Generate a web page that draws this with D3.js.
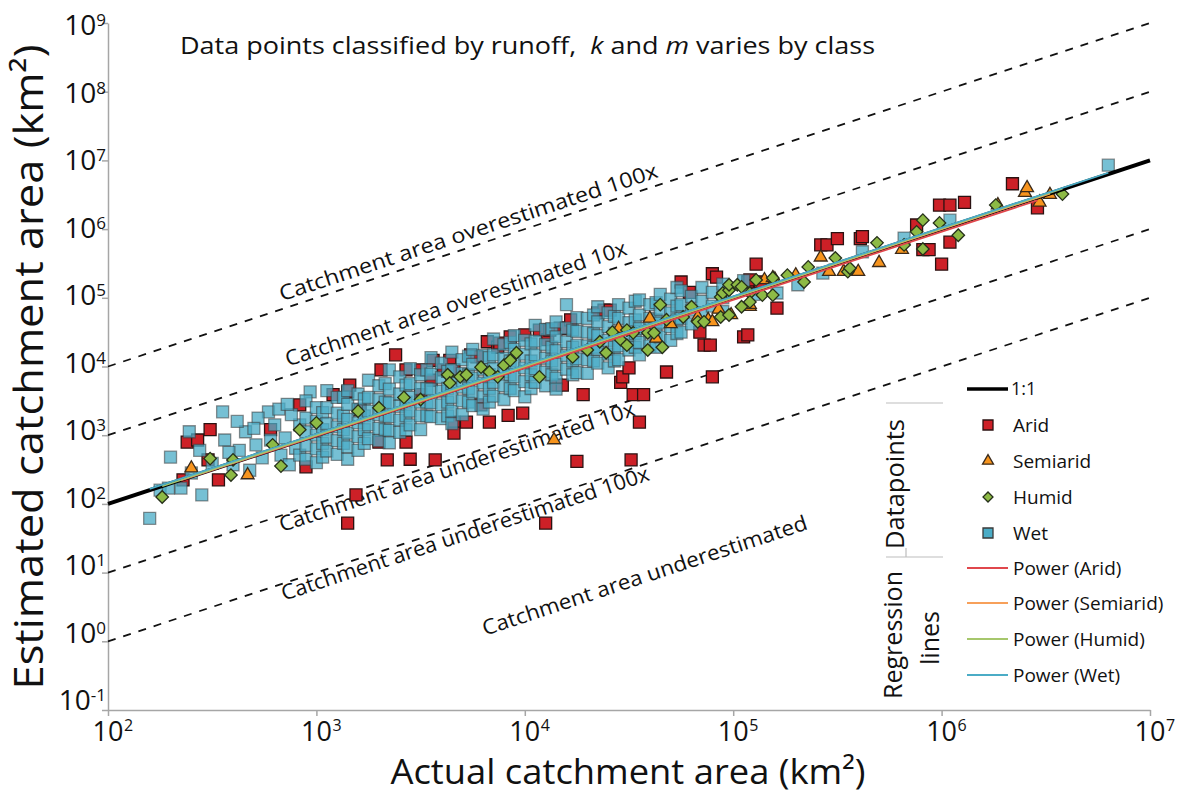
<!DOCTYPE html>
<html>
<head>
<meta charset="utf-8">
<script src="https://cdn.jsdelivr.net/npm/d3@7"></script>
<style>
  body { margin: 0; background: #fff; }
  svg { display: block; font-family: "Open Sans", sans-serif; }
</style>
</head>
<body>
<svg id="chart" width="1180" height="794"></svg>
<script>
// Catchment areas, given as log10(km2): [actual, estimated]
const arid = [
  [2.36,2.35],[2.38,2.90],[2.43,2.93],[2.49,3.08],[2.48,2.64],[2.53,2.35],
  [2.78,3.08],[2.92,3.44],[2.95,2.54],[3.08,3.59],[3.15,3.63],[3.15,1.72],[3.19,2.13],
  [3.16,3.73],[3.21,3.37],[3.30,2.90],[3.31,3.95],[3.34,2.64],[3.38,4.17],[3.43,2.90],
  [3.43,3.95],[3.45,2.65],[3.50,3.95],[3.50,3.59],[3.55,3.80],[3.56,4.09],[3.57,2.64],
  [3.61,3.95],[3.64,4.09],[3.66,3.95],[3.66,3.19],[3.66,3.03],[3.72,3.19],[3.74,4.17],
  [3.77,4.14],[3.79,3.44],[3.82,4.36],[3.83,3.19],[3.87,4.28],[3.88,4.34],[3.92,3.29],
  [3.93,4.43],[3.99,3.32],[4.00,4.46],[4.07,4.53],[4.10,1.72],[4.11,4.39],[4.12,4.53],
  [4.15,3.73],[4.17,4.56],[4.18,3.73],[4.20,4.56],[4.22,4.68],[4.25,2.62],[4.28,3.59],
  [4.35,4.78],[4.38,4.82],[4.41,4.82],[4.46,3.77],[4.47,3.85],[4.50,3.98],[4.51,2.64],
  [4.52,3.59],[4.55,3.19],[4.57,3.59],[4.68,3.92],[4.75,5.23],[4.79,5.08],[4.84,4.50],
  [4.86,4.31],[4.89,4.31],[4.90,5.35],[4.90,3.85],[4.92,5.30],[5.05,4.43],[5.07,4.46],
  [5.07,5.23],[5.08,5.26],[5.11,5.49],[5.13,5.23],[5.21,4.85],[5.42,5.77],[5.45,5.77],
  [5.50,5.86],[5.61,5.86],[5.62,5.89],[5.88,6.06],[5.91,5.70],[5.94,5.70],[5.99,6.35],
  [6.00,5.49],[6.04,6.35],[6.04,5.81],[6.11,6.39],[6.34,6.66],[6.46,6.31]
];

const semiarid = [
  [2.40,2.52],[2.67,2.42],[4.14,2.93],[4.45,4.55],[4.60,4.70],[4.63,4.41],[4.70,4.62],
  [4.83,4.72],[4.88,4.68],[4.90,4.65],[4.93,4.83],[4.99,4.75],[5.08,4.87],[5.08,4.90],
  [5.15,5.26],[5.20,5.27],[5.19,5.29],[5.30,5.33],[5.42,5.59],[5.46,5.38],[5.53,5.38],
  [5.60,5.38],[5.70,5.51],[5.81,5.70],[6.27,6.35],[6.40,6.53],[6.41,6.60],[6.47,6.39],
  [6.52,6.50]
];

const humid = [
  [2.26,2.10],[2.49,2.66],[2.59,2.42],[2.60,2.64],[2.79,2.86],[2.83,2.55],[2.92,3.08],
  [3.00,3.18],[3.20,3.35],[3.30,3.40],[3.42,3.55],[3.50,3.52],[3.63,3.88],[3.64,3.76],
  [3.69,3.85],[3.72,3.88],[3.79,3.99],[3.83,3.92],[3.87,3.85],[3.90,4.02],[3.93,4.09],
  [3.96,4.20],[4.07,3.85],[4.23,4.14],[4.30,4.24],[4.36,4.36],[4.39,4.20],[4.42,4.50],
  [4.46,4.39],[4.49,4.53],[4.49,4.31],[4.52,4.49],[4.59,4.49],[4.59,4.24],[4.62,4.49],
  [4.65,4.90],[4.66,4.28],[4.68,4.68],[4.76,4.72],[4.80,4.87],[4.83,4.65],[4.86,4.65],
  [4.94,4.72],[4.94,5.01],[4.95,5.07],[4.98,5.11],[4.98,4.75],[4.98,5.19],[5.02,5.19],
  [5.04,5.16],[5.04,4.87],[5.08,5.07],[5.08,4.94],[5.11,5.26],[5.14,5.04],[5.19,5.04],
  [5.19,5.29],[5.26,5.33],[5.34,5.23],[5.36,5.45],[5.49,5.58],[5.55,5.38],[5.56,5.43],
  [5.69,5.80],[5.82,5.77],[5.88,5.96],[5.91,6.13],[5.91,5.71],[5.99,6.09],[6.08,5.91],
  [6.26,6.35],[6.58,6.51]
];

const wet = [
  [2.20,1.79],[2.25,2.20],[2.29,2.23],[2.35,2.23],[2.30,2.68],[2.39,3.05],[2.45,2.13],
  [2.55,3.34],[2.77,3.34],[2.97,3.63],[2.44,2.78],[2.50,2.59],[2.56,2.93],[2.60,2.57],
  [2.63,2.78],[2.66,3.05],[2.68,2.49],[2.71,2.86],[2.74,2.67],[2.78,2.93],[2.80,3.15],
  [2.83,2.71],[2.85,2.96],[2.87,2.57],[2.90,2.81],[2.92,3.15],[2.92,2.71],[2.40,2.45],
  [2.62,3.20],[2.72,3.25],[2.82,3.38],[2.88,3.30],[2.70,3.10],[2.58,2.75],[2.86,3.45],
  [2.95,3.50],[2.95,3.25],[2.95,3.05],[2.95,2.85],[2.95,2.65],
  [3.00,3.40],[3.00,3.20],[3.00,3.00],[3.00,2.80],[3.00,2.60],
  [3.03,3.33],[3.03,3.08],[3.03,2.88],[3.03,2.68],
  [3.05,3.65],[3.05,3.40],[3.05,3.17],[3.05,2.97],[3.05,2.77],
  [3.10,3.55],[3.10,3.32],[3.10,3.12],[3.10,2.92],[3.10,2.72],
  [3.13,3.55],[3.13,3.28],[3.13,3.08],[3.13,2.88],
  [3.15,3.65],[3.15,3.45],[3.15,3.23],[3.15,3.03],[3.15,2.83],[3.15,2.65],
  [3.20,3.60],[3.20,3.38],[3.20,3.18],[3.20,2.98],[3.20,2.78],
  [3.23,3.53],[3.23,3.28],[3.23,3.08],[3.23,2.88],
  [3.25,3.80],[3.25,3.55],[3.25,3.35],[3.25,3.15],[3.25,2.95],
  [3.30,3.72],[3.30,3.52],[3.30,3.30],[3.30,3.10],[3.30,2.92],
  [3.33,3.75],[3.33,3.48],[3.33,3.28],[3.33,3.08],
  [3.35,3.95],[3.35,3.67],[3.35,3.47],[3.35,3.27],[3.35,3.07],[3.35,2.89],
  [3.40,3.85],[3.40,3.60],[3.40,3.42],[3.40,3.22],[3.40,3.04],
  [3.43,3.73],[3.43,3.48],[3.43,3.28],[3.43,3.08],
  [3.45,3.97],[3.45,3.75],[3.45,3.55],[3.45,3.35],[3.45,3.15],
  [3.50,3.88],[3.50,3.68],[3.50,3.48],[3.50,3.28],[3.50,3.08],
  [3.53,3.95],[3.53,3.68],[3.53,3.48],[3.53,3.28],
  [3.55,4.13],[3.55,3.89],[3.55,3.67],[3.55,3.47],[3.55,3.27],
  [3.60,4.05],[3.60,3.84],[3.60,3.64],[3.60,3.44],[3.60,3.24],
  [3.63,3.93],[3.63,3.68],[3.63,3.48],[3.63,3.28],
  [3.65,4.21],[3.65,3.95],[3.65,3.75],[3.65,3.55],[3.65,3.35],[3.65,3.17],
  [3.70,4.10],[3.70,3.90],[3.70,3.70],[3.70,3.50],[3.70,3.30],
  [3.73,4.15],[3.73,3.88],[3.73,3.68],[3.73,3.48],
  [3.75,4.25],[3.75,4.03],[3.75,3.83],[3.75,3.63],[3.75,3.43],
  [3.80,4.16],[3.80,3.96],[3.80,3.76],[3.80,3.56],[3.80,3.38],
  [3.83,4.13],[3.83,3.88],[3.83,3.68],[3.83,3.48],
  [3.85,4.40],[3.85,4.17],[3.85,3.97],[3.85,3.77],[3.85,3.57],
  [3.90,4.32],[3.90,4.12],[3.90,3.92],[3.90,3.72],[3.90,3.52],
  [3.93,4.35],[3.93,4.08],[3.93,3.88],[3.93,3.68],
  [3.95,4.45],[3.95,4.25],[3.95,4.05],[3.95,3.85],[3.95,3.65],
  [4.00,4.38],[4.00,4.18],[4.00,3.98],[4.00,3.78],[4.00,3.56],
  [4.03,4.33],[4.03,4.08],[4.03,3.88],[4.03,3.68],
  [4.05,4.60],[4.05,4.37],[4.05,4.17],[4.05,3.97],[4.05,3.77],
  [4.10,4.54],[4.10,4.32],[4.10,4.12],[4.10,3.92],[4.10,3.72],
  [4.13,4.55],[4.13,4.28],[4.13,4.08],[4.13,3.88],
  [4.15,4.65],[4.15,4.43],[4.15,4.23],[4.15,4.03],[4.15,3.83],[4.15,3.67],
  [4.20,4.90],[4.20,4.56],[4.20,4.36],[4.20,4.16],[4.20,3.96],
  [4.23,4.53],[4.23,4.28],[4.23,4.08],[4.23,3.88],
  [4.25,4.71],[4.25,4.51],[4.25,4.31],[4.25,4.11],[4.25,3.91],
  [4.30,4.70],[4.30,4.50],[4.30,4.30],[4.30,4.10],[4.30,3.90],
  [4.33,4.75],[4.33,4.48],[4.33,4.28],[4.33,4.08],
  [4.35,4.87],[4.35,4.65],[4.35,4.45],[4.35,4.25],[4.35,4.05],
  [4.40,4.78],[4.40,4.58],[4.40,4.38],[4.40,4.18],[4.40,3.98],
  [4.43,4.73],[4.43,4.48],[4.43,4.28],[4.43,4.08],
  [4.45,4.90],[4.45,4.70],[4.45,4.50],[4.45,4.30],[4.45,4.10],
  [4.50,4.85],[4.50,4.64],[4.50,4.44],[4.50,4.24],
  [4.53,4.95],[4.53,4.68],[4.53,4.48],[4.53,4.28],
  [4.55,4.97],[4.55,4.75],[4.55,4.55],[4.55,4.35],[4.55,4.17],
  [4.60,4.90],[4.60,4.70],[4.60,4.50],[4.60,4.30],
  [4.63,4.93],[4.63,4.68],[4.63,4.48],[4.63,4.28],
  [4.65,5.05],[4.65,4.83],[4.65,4.63],[4.65,4.43],
  [4.70,4.98],[4.70,4.78],[4.70,4.58],[4.70,4.38],
  [4.73,5.15],[4.73,4.88],[4.73,4.68],[4.73,4.48],
  [4.75,5.10],[4.75,4.90],[4.75,4.70],[4.75,4.50],
  [4.80,5.02],[4.80,4.82],[4.80,4.62],
  [4.85,5.15],[4.85,4.95],[4.85,4.75],
  [4.90,5.08],[4.90,4.88],
  [4.95,5.20],[4.95,5.00],[4.95,4.80],
  [5.05,5.25],[5.10,5.05],[5.21,5.07],[5.31,5.19],[5.43,5.36],[5.62,5.67],
  [5.82,5.87],[6.04,6.13],[6.80,6.93]
];

const classNames = ["Arid", "Semiarid", "Humid", "Wet"];
const classData = [arid, semiarid, humid, wet];

// Power regression per class: est = 10^logK * actual^m, drawn over [from, to] (log10 km2)
const fitLogK = [0.01, 0.01, -0.01, 0.02];
const fitM = [0.992, 0.998, 1.003, 1.0];
const fitFrom = [2.35, 2.40, 2.26, 2.20];
const fitTo = [6.46, 6.52, 6.58, 6.80];

const xExponents = [2, 3, 4, 5, 6, 7];
const yExponents = [-1, 0, 1, 2, 3, 4, 5, 6, 7, 8, 9];
const ratioLines = [100, 10, 0.1, 0.01];

const zoneLabels = [
  "Catchment area overestimated 100x",
  "Catchment area overestimated 10x",
  "Catchment area underestimated 10x",
  "Catchment area underestimated 100x",
  "Catchment area underestimated"
];
// label start points, log10 km2 [actual, estimated]
const zoneAnchors = [[2.835, 4.95], [2.864, 4.0], [2.835, 1.59], [2.845, 0.59], [3.809, 0.08]];
const zoneLengths = [397, 358, 373, 386, 341];

// Styles
const markerFill = ["#cd2027", "#f7941d", "#8dba45", "#4bacc6"];
const markerStroke = ["#2b1212", "#3b2a1a", "#26301a", "#3a3a3a"];
const lineColors = ["#e0474c", "#f7a05a", "#a6c76c", "#4bacc6"];
const AXIS_GRAY = "#a6a6a6";

const pow10 = e => Math.pow(10, e);

const svg = d3.select("#chart");

const x = d3.scaleLog().domain([1e2, 1e7]).range([108, 1150]);
const y = d3.scaleLog().domain([1e-1, 1e9]).range([710, 23]);

// Axes
const xAxis = d3.axisBottom(x)
  .tickValues(xExponents.map(pow10))
  .tickSize(6)
  .tickSizeOuter(0)
  .tickFormat("");
const yAxis = d3.axisLeft(y)
  .tickValues(yExponents.map(pow10))
  .tickSize(6)
  .tickSizeOuter(0)
  .tickFormat("");

function styleAxis(g) {
  g.select(".domain").attr("stroke", AXIS_GRAY).attr("stroke-width", 1.5);
  g.selectAll(".tick line").attr("stroke", AXIS_GRAY).attr("stroke-width", 1.5);
}

svg.append("g").attr("transform", "translate(0,710)").call(xAxis).call(styleAxis);
svg.append("g").attr("transform", "translate(108,0)").call(yAxis).call(styleAxis);

// Tick labels as 10 with superscript
xExponents.forEach(e => {
  const cx = x(pow10(e));
  svg.append("text")
    .attr("x", cx)
    .attr("y", 741)
    .attr("text-anchor", "middle")
    .attr("font-size", 27)
    .attr("fill", "#111")
    .text("10");
  svg.append("text")
    .attr("x", cx + 16)
    .attr("y", 731)
    .attr("font-size", 16)
    .attr("fill", "#111")
    .text(e);
});

// y labels sit a little tighter than their ticks, as in the source figure
yExponents.forEach(e => {
  const base = 35 + (9 - e) * 67.5;
  const t = svg.append("text")
    .attr("x", 106)
    .attr("y", base)
    .attr("text-anchor", "end")
    .attr("fill", "#111");
  t.append("tspan").attr("font-size", 28).text("10");
  t.append("tspan").attr("font-size", 17).attr("dy", -9).text(e);
});

// Ratio (dashed) lines
const lineGen = d3.line().x(d => x(d[0])).y(d => y(d[1]));
ratioLines.forEach(r => {
  svg.append("path")
    .attr("d", lineGen([[1e2, 1e2 * r], [1e7, 1e7 * r]]))
    .attr("fill", "none")
    .attr("stroke", "#111")
    .attr("stroke-width", 1.8)
    .attr("stroke-dasharray", "8,8");
});

// Zone labels
const slopeAngle = Math.atan2(y(10) - y(100), x(100) - x(10)) * 180 / Math.PI;
zoneLabels.forEach((label, i) => {
  const a = zoneAnchors[i];
  svg.append("text")
    .attr("transform", "translate(" + x(pow10(a[0])) + "," + y(pow10(a[1])) + ") rotate(" + (-slopeAngle) + ")")
    .attr("font-size", 21)
    .attr("fill", "#111")
    .attr("textLength", zoneLengths[i])
    .attr("lengthAdjust", "spacingAndGlyphs")
    .text(label);
});

// Markers
const squareSym = d3.symbol().type(d3.symbolSquare).size(144)();
const diamondSym = d3.symbol().type(d3.symbolSquare).size(78)();
const triangleSym = d3.symbol().type(d3.symbolTriangle).size(72)();

function drawSeries(idx, path, rotate, fillOpacity, strokeOpacity) {
  svg.append("g")
    .selectAll("path")
    .data(classData[idx])
    .enter()
    .append("path")
    .attr("d", path)
    .attr("transform", d =>
      "translate(" + x(pow10(d[0])) + "," + y(pow10(d[1])) + ")" + (rotate ? " rotate(45)" : ""))
    .attr("fill", markerFill[idx])
    .attr("fill-opacity", fillOpacity)
    .attr("stroke", markerStroke[idx])
    .attr("stroke-opacity", strokeOpacity)
    .attr("stroke-width", 1.3);
}

drawSeries(0, squareSym, false, 1, 1);
drawSeries(3, squareSym, false, 0.76, 0.55);
drawSeries(1, triangleSym, false, 1, 1);
drawSeries(2, diamondSym, true, 1, 1);

// 1:1 line
svg.append("path")
  .attr("d", lineGen([[1e2, 1e2], [1e7, 1e7]]))
  .attr("stroke", "#000")
  .attr("stroke-width", 4)
  .attr("fill", "none");

// Regression lines
classNames.forEach((name, i) => {
  const pts = [fitFrom[i], fitTo[i]].map(lx => [pow10(lx), pow10(fitLogK[i] + fitM[i] * lx)]);
  svg.append("path")
    .attr("d", lineGen(pts))
    .attr("stroke", lineColors[i])
    .attr("stroke-width", 1.8)
    .attr("fill", "none");
});

// Title
const title = svg.append("text")
  .attr("x", 180)
  .attr("y", 54)
  .attr("font-size", 24)
  .attr("fill", "#111")
  .attr("textLength", 695)
  .attr("lengthAdjust", "spacingAndGlyphs")
  .style("white-space", "pre");
title.append("tspan").text("Data points classified by runoff,  ");
title.append("tspan").attr("font-style", "italic").text("k");
title.append("tspan").text(" and ");
title.append("tspan").attr("font-style", "italic").text("m");
title.append("tspan").text(" varies by class");

// Axis titles
svg.append("text")
  .attr("x", 628)
  .attr("y", 784)
  .attr("text-anchor", "middle")
  .attr("font-size", 35)
  .attr("fill", "#111")
  .attr("textLength", 475)
  .attr("lengthAdjust", "spacingAndGlyphs")
  .text("Actual catchment area (km²)");

svg.append("text")
  .attr("transform", "translate(43,367) rotate(-90)")
  .attr("text-anchor", "middle")
  .attr("font-size", 40)
  .attr("fill", "#111")
  .attr("textLength", 645)
  .attr("lengthAdjust", "spacingAndGlyphs")
  .text("Estimated catchment area (km²)");

// Legend
const legend = svg.append("g");
const LEG_X = 988;
const TEXT_X = 1013;

legend.append("line")
  .attr("x1", 967).attr("x2", 1008)
  .attr("y1", 389).attr("y2", 389)
  .attr("stroke", "#000").attr("stroke-width", 3.5);
legend.append("text")
  .attr("x", 1011).attr("y", 395)
  .attr("font-size", 18).attr("fill", "#111")
  .text("1:1");

[403, 557].forEach(yy => {
  legend.append("line")
    .attr("x1", 886).attr("x2", 943)
    .attr("y1", yy).attr("y2", yy)
    .attr("stroke", "#bdbdbd").attr("stroke-width", 1.2);
});
legend.append("line")
  .attr("x1", 906).attr("x2", 906)
  .attr("y1", 548).attr("y2", 557)
  .attr("stroke", "#bdbdbd").attr("stroke-width", 1.2);

legend.append("text")
  .attr("transform", "translate(904,484) rotate(-90)")
  .attr("text-anchor", "middle")
  .attr("font-size", 25).attr("fill", "#111")
  .attr("textLength", 130).attr("lengthAdjust", "spacingAndGlyphs")
  .text("Datapoints");
legend.append("text")
  .attr("transform", "translate(902,635) rotate(-90)")
  .attr("text-anchor", "middle")
  .attr("font-size", 25).attr("fill", "#111")
  .attr("textLength", 128).attr("lengthAdjust", "spacingAndGlyphs")
  .text("Regression");
legend.append("text")
  .attr("transform", "translate(939,638) rotate(-90)")
  .attr("text-anchor", "middle")
  .attr("font-size", 25).attr("fill", "#111")
  .text("lines");

const markerRows = [425, 461, 497, 533];
const legSquare = d3.symbol().type(d3.symbolSquare).size(100)();
const legDiamond = d3.symbol().type(d3.symbolSquare).size(50)();
const legTriangle = d3.symbol().type(d3.symbolTriangle).size(52)();
const legPaths = [legSquare, legTriangle, legDiamond, legSquare];

classNames.forEach((name, i) => {
  legend.append("path")
    .attr("d", legPaths[i])
    .attr("transform", "translate(" + LEG_X + "," + markerRows[i] + ")" + (i === 2 ? " rotate(45)" : ""))
    .attr("fill", markerFill[i])
    .attr("stroke", markerStroke[i])
    .attr("stroke-width", 1.3);
  legend.append("text")
    .attr("x", TEXT_X).attr("y", markerRows[i] + 7)
    .attr("font-size", 19).attr("fill", "#111")
    .text(name);
});

const lineRows = [568, 603, 639, 675];
classNames.forEach((name, i) => {
  legend.append("line")
    .attr("x1", 967).attr("x2", 1008)
    .attr("y1", lineRows[i]).attr("y2", lineRows[i])
    .attr("stroke", lineColors[i]).attr("stroke-width", 1.8);
  legend.append("text")
    .attr("x", TEXT_X).attr("y", lineRows[i] + 7)
    .attr("font-size", 19).attr("fill", "#111")
    .text("Power (" + name + ")");
});
</script>
</body>
</html>
